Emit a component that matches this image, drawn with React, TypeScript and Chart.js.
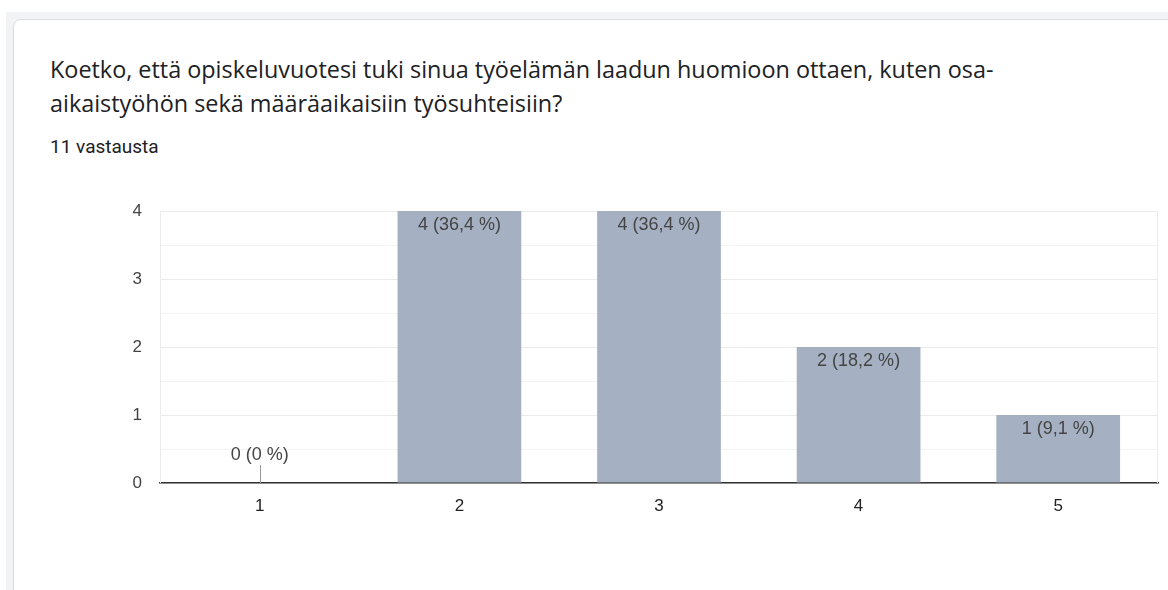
import React, { useEffect, useRef } from "react";
import { Chart, registerables } from "chart.js";

Chart.register(...registerables);

const categories = ["1", "2", "3", "4", "5"];
const counts = [0, 4, 4, 2, 1];
const percentLabels = ["0 %", "36,4 %", "36,4 %", "18,2 %", "9,1 %"];
const yTickValues = [0, 1, 2, 3, 4];

const TITLE =
  "Koetko, että opiskeluvuotesi tuki sinua työelämän laadun huomioon ottaen, kuten osa-aikaistyöhön sekä määräaikaisiin työsuhteisiin?";
const RESPONSES = "11 vastausta";

const BAR_COLOR = "#a5b1c2";
const LABEL_COLOR = "#444444";
const AXIS_FONT = "'Liberation Sans', Arial, sans-serif";

const framePlugin = {
  id: "frame",
  beforeDatasetsDraw(chart: any) {
    const { ctx, chartArea } = chart;
    ctx.save();
    ctx.strokeStyle = "#ececec";
    ctx.lineWidth = 1;
    ctx.beginPath();
    ctx.moveTo(Math.round(chartArea.left) + 0.5, chartArea.top);
    ctx.lineTo(Math.round(chartArea.left) + 0.5, chartArea.bottom);
    ctx.moveTo(Math.round(chartArea.right) - 0.5, chartArea.top);
    ctx.lineTo(Math.round(chartArea.right) - 0.5, chartArea.bottom);
    ctx.stroke();
    ctx.restore();
  },
};

const valueLabelPlugin = {
  id: "valueLabels",
  afterDatasetsDraw(chart: any) {
    const { ctx } = chart;
    const meta = chart.getDatasetMeta(0);
    ctx.save();
    ctx.font = `18px ${AXIS_FONT}`;
    ctx.fillStyle = LABEL_COLOR;
    ctx.textAlign = "center";
    ctx.textBaseline = "middle";
    meta.data.forEach((bar: any, i: number) => {
      const text = `${counts[i]} (${percentLabels[i]})`;
      if (counts[i] === 0) {
        ctx.strokeStyle = "#999999";
        ctx.lineWidth = 1;
        ctx.beginPath();
        ctx.moveTo(Math.round(bar.x) + 0.5, bar.y);
        ctx.lineTo(Math.round(bar.x) + 0.5, bar.y - 18);
        ctx.stroke();
        ctx.fillText(text, bar.x, bar.y - 28);
      } else {
        ctx.fillText(text, bar.x, bar.y + 14);
      }
    });
    ctx.restore();
  },
};

function BarChart() {
  const ref = useRef<HTMLCanvasElement | null>(null);
  useEffect(() => {
    if (!ref.current) return;
    const chart = new Chart(ref.current, {
      type: "bar",
      data: {
        labels: categories,
        datasets: [
          {
            data: counts,
            backgroundColor: BAR_COLOR,
            borderWidth: 0,
            barPercentage: 0.62,
            categoryPercentage: 1,
          },
        ],
      },
      options: {
        animation: false,
        responsive: false,
        maintainAspectRatio: false,
        layout: { padding: { left: 120, right: 10, top: 21, bottom: 0 } },
        plugins: {
          legend: { display: false },
          tooltip: { enabled: false },
        },
        scales: {
          x: {
            grid: { display: false, drawTicks: false },
            border: { display: true, color: "#333333", width: 1.5 },
            ticks: {
              color: "#222222",
              padding: 13,
              font: { family: AXIS_FONT, size: 17 },
            },
            afterFit(scale: any) {
              scale.height = 47;
              scale.paddingLeft = 0;
              scale.paddingRight = 0;
            },
          },
          y: {
            min: 0,
            max: 4,
            afterBuildTicks(scale: any) {
              const t: any[] = [];
              for (let v = 0; v <= 4; v += 0.5) t.push({ value: v });
              scale.ticks = t;
            },
            grid: {
              drawTicks: false,
              color: (c: any) =>
                c.tick && yTickValues.includes(c.tick.value) ? "#ebebeb" : "#f3f3f3",
              lineWidth: 1,
            },
            border: { display: false },
            ticks: {
              color: "#444444",
              padding: 18,
              font: { family: AXIS_FONT, size: 17 },
              callback: (v: any) => (yTickValues.includes(Number(v)) ? String(v) : ""),
            },
            afterFit(scale: any) {
              scale.width = 40;
              scale.paddingTop = 0;
              scale.paddingBottom = 0;
            },
          },
        },
      },
      plugins: [framePlugin, valueLabelPlugin],
    });
    return () => chart.destroy();
  }, []);
  return (
    <canvas
      ref={ref}
      width={1168}
      height={340}
      style={{ position: "absolute", left: 0, top: 190, width: 1168, height: 340 }}
    />
  );
}

export default function App() {
  return (
    <div
      style={{
        position: "fixed",
        left: 0,
        top: 0,
        width: 1168,
        height: 590,
        overflow: "hidden",
        background: "#ffffff",
      }}
    >
      <div
        style={{
          position: "absolute",
          left: 6,
          top: 12,
          width: 1200,
          height: 700,
          background: "#f1f3f4",
        }}
      />
      <div
        style={{
          position: "absolute",
          left: 13,
          top: 19,
          width: 1200,
          height: 700,
          background: "#ffffff",
          border: "1px solid #dadce0",
          borderRadius: 8,
        }}
      />
      <div
        style={{
          position: "absolute",
          left: 50,
          top: 52,
          width: 1060,
          fontFamily: "'Open Sans', Roboto, sans-serif",
          fontSize: 23.4,
          lineHeight: "34px",
          color: "#202124",
        }}
      >
        {TITLE}
      </div>
      <div
        style={{
          position: "absolute",
          left: 50,
          top: 135,
          fontFamily: "Roboto, 'Noto Sans', sans-serif",
          fontSize: 19,
          color: "#202124",
        }}
      >
        {RESPONSES}
      </div>
      <BarChart />
    </div>
  );
}
